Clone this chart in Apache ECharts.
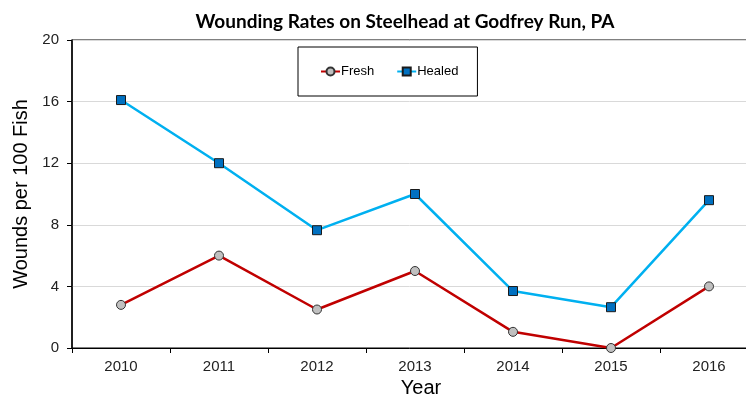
<!DOCTYPE html>
<html>
<head>
<meta charset="utf-8">
<script src="https://cdn.jsdelivr.net/npm/echarts@6/dist/echarts.min.js"></script>
<style>
  html, body { margin: 0; padding: 0; background: #fff; }
  #chart { width: 746px; height: 398px; }
</style>
</head>
<body>
<div id="chart"></div>
<script>
// Wounds per 100 fish, by survey year
const years = ['2010', '2011', '2012', '2013', '2014', '2015', '2016'];
const fresh = [2.8, 6.0, 2.5, 5.0, 1.05, 0, 4.0];
const healed = [16.1, 12.0, 7.65, 10.0, 3.7, 2.65, 9.6];
const yTicks = [0, 4, 8, 12, 16, 20];

const chart = echarts.init(document.getElementById('chart'));
const sans = 'Liberation Sans, Arial, sans-serif';
const axisFont = { fontFamily: sans, fontSize: 15, color: '#222' };

chart.setOption({
  animation: false,
  title: {
    text: 'Wounding Rates on Steelhead at Godfrey Run, PA',
    left: 400, top: 7, textAlign: 'center',
    textStyle: { fontFamily: 'Lato, sans-serif', fontWeight: 'bold', fontSize: 19, color: '#000' }
  },
  legend: {
    orient: 'horizontal',
    left: 298, top: 47,
    padding: [18, 19, 18, 22],
    itemGap: 22, itemWidth: 19, itemHeight: 10,
    backgroundColor: '#fff', borderColor: '#000', borderWidth: 1,
    textStyle: { fontFamily: sans, fontSize: 13, color: '#000', padding: [0, 0, 0, -4] },
    data: ['Fresh', 'Healed']
  },
  grid: {
    left: 72, top: 40, right: -12, bottom: 50,
    containLabel: false, outerBoundsMode: 'none',
    show: true, borderColor: '#000', borderWidth: 1, backgroundColor: 'transparent'
  },
  xAxis: {
    type: 'category', data: years, boundaryGap: true,
    name: 'Year', nameLocation: 'middle', nameGap: 28,
    nameTextStyle: { fontFamily: sans, fontSize: 20, color: '#000', padding: [0, 0, 0, 12] },
    axisLine: { lineStyle: { color: '#000', width: 1 } },
    axisTick: { show: true, length: 5, lineStyle: { color: '#000' } },
    axisLabel: Object.assign({ margin: 11 }, axisFont)
  },
  yAxis: {
    type: 'value', min: yTicks[0], max: yTicks[yTicks.length - 1], interval: 4,
    name: 'Wounds per 100 Fish', nameLocation: 'middle', nameGap: 40,
    nameTextStyle: { fontFamily: sans, fontSize: 20, color: '#000' },
    axisLine: { show: true, lineStyle: { color: '#000', width: 1.5 } },
    axisTick: { show: true, length: 5, lineStyle: { color: '#000' } },
    axisLabel: Object.assign({ margin: 13 }, axisFont),
    splitLine: { show: true, lineStyle: { color: '#d9d9d9', width: 1 } }
  },
  series: [
    {
      name: 'Fresh', type: 'line', data: fresh,
      symbol: 'circle', symbolSize: 9,
      lineStyle: { color: '#c00000', width: 2.5 },
      itemStyle: { color: '#c0c0c0', borderColor: '#333', borderWidth: 1 },
      z: 3
    },
    {
      name: 'Healed', type: 'line', data: healed,
      symbol: 'rect', symbolSize: 9,
      lineStyle: { color: '#00b0f0', width: 2.5 },
      itemStyle: { color: '#0070c0', borderColor: '#1a1a1a', borderWidth: 1 },
      z: 4
    }
  ]
});
</script>
</body>
</html>
